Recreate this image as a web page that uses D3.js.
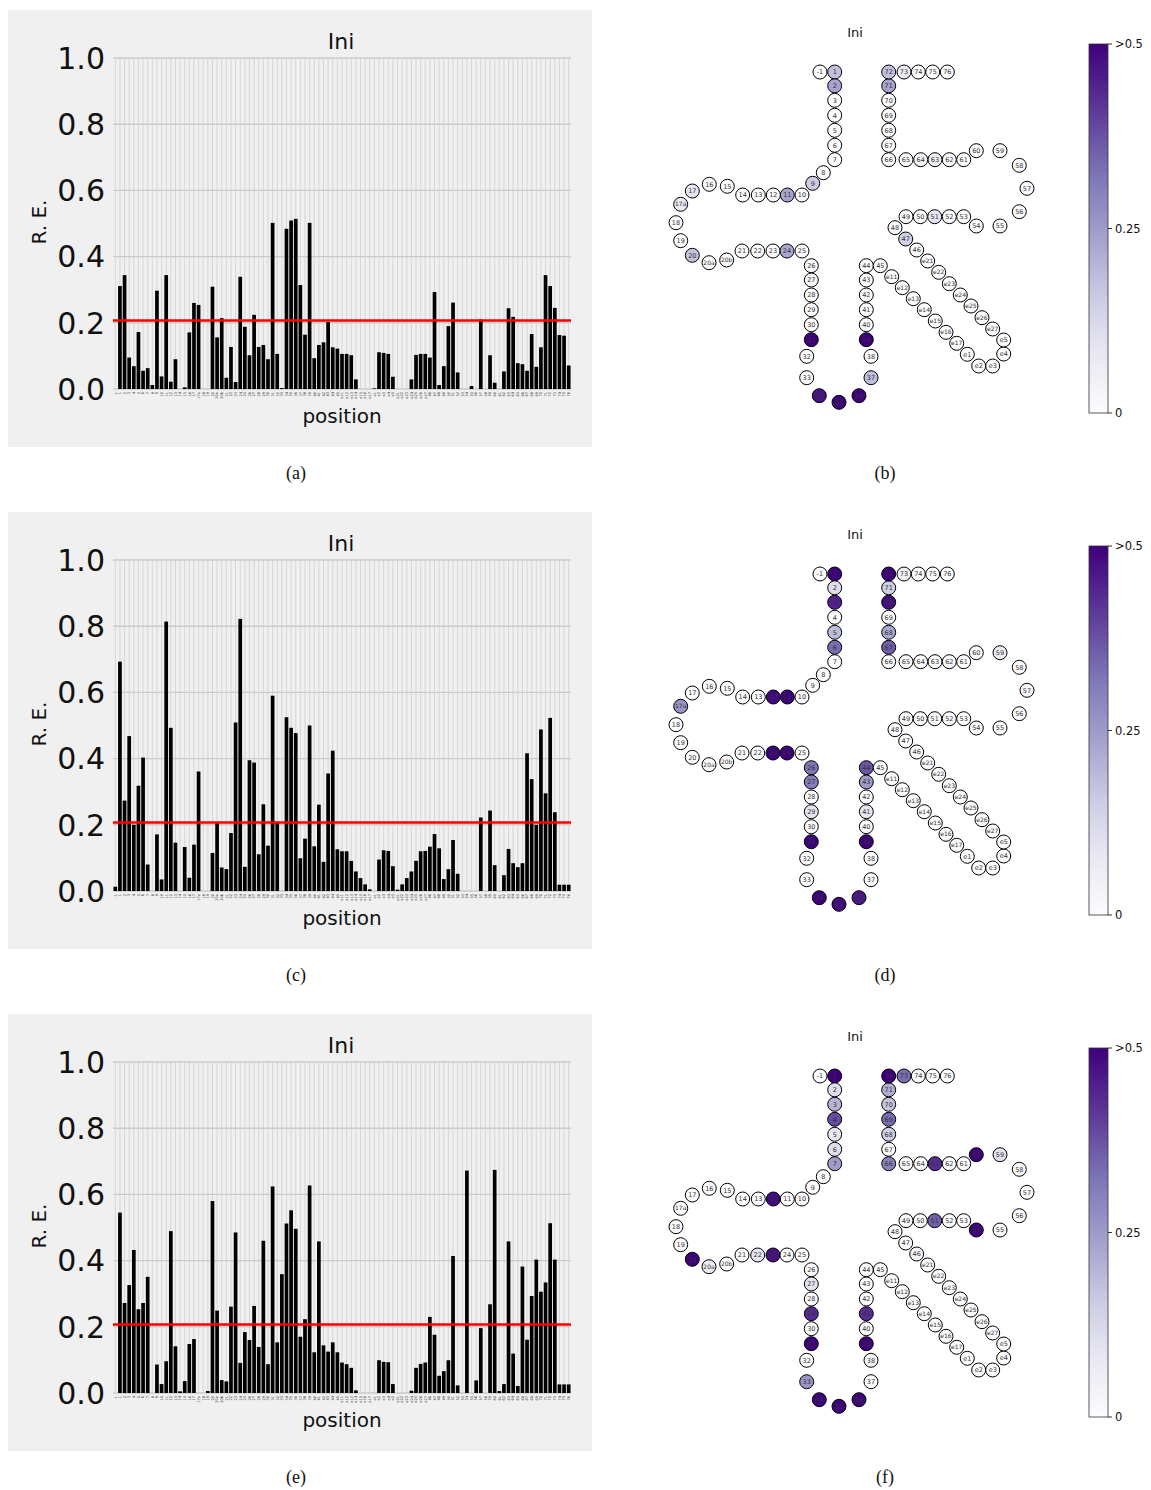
<!DOCTYPE html>
<html>
<head>
<meta charset="utf-8">
<script src="https://cdn.jsdelivr.net/npm/d3@7"></script>
<style>
  body { margin: 0; background: #fff; }
</style>
</head>
<body>
<div id="chart"></div>
<script>
// tRNA positions (Sprinzl numbering incl. variable arm)
const positions = [
  "-1", ...d3.range(1, 18).map(String), "17a", "18", "19", "20", "20a", "20b",
  ...d3.range(21, 46).map(String),
  ...d3.range(11, 18).map(d => "e" + d),
  ...d3.range(1, 6).map(d => "e" + d),
  ...d3.range(21, 28).map(d => "e" + d),
  ...d3.range(46, 77).map(String)
];

// relative enrichment, one value per position
const reIniA = [
  0, 0.311, 0.344, 0.095, 0.069, 0.172, 0.055, 0.063, 0.012, 0.297,
  0.038, 0.344, 0.022, 0.09, 0, 0.005, 0.171, 0.26, 0.254, 0,
  0, 0.309, 0.156, 0.214, 0.034, 0.127, 0.021, 0.339, 0.188, 0.102,
  0.224, 0.127, 0.133, 0.09, 0.502, 0.106, 0.003, 0.484, 0.509, 0.514,
  0.314, 0.164, 0.502, 0.093, 0.133, 0.141, 0.202, 0.126, 0.122, 0.106,
  0.106, 0.102, 0.029, 0, 0, 0, 0.002, 0.111, 0.109, 0.106,
  0.037, 0, 0, 0, 0.029, 0.103, 0.106, 0.106, 0.095, 0.293,
  0.012, 0.069, 0.19, 0.261, 0.05, 0, 0, 0.009, 0, 0.21,
  0, 0.102, 0.019, 0, 0.053, 0.244, 0.218, 0.078, 0.075, 0.055,
  0.166, 0.067, 0.126, 0.344, 0.311, 0.245, 0.163, 0.161, 0.071
];
const reIniC = [
  0.013, 0.693, 0.273, 0.468, 0.2, 0.318, 0.403, 0.08, 0, 0.171,
  0.035, 0.814, 0.493, 0.146, 0, 0.133, 0.04, 0.14, 0.361, 0,
  0, 0.115, 0.205, 0.071, 0.066, 0.175, 0.509, 0.822, 0.073, 0.395,
  0.388, 0.111, 0.262, 0.137, 0.59, 0.209, 0, 0.525, 0.493, 0.477,
  0.099, 0.158, 0.5, 0.135, 0.261, 0.088, 0.355, 0.424, 0.126, 0.12,
  0.12, 0.091, 0.059, 0.039, 0.02, 0.005, 0, 0.095, 0.123, 0.121,
  0.075, 0.004, 0.02, 0.039, 0.059, 0.091, 0.12, 0.121, 0.134, 0.172,
  0.129, 0.036, 0.066, 0.154, 0.052, 0, 0, 0, 0, 0.222,
  0, 0.243, 0.078, 0, 0.048, 0.127, 0.084, 0.072, 0.084, 0.416,
  0.338, 0.2, 0.488, 0.295, 0.523, 0.238, 0.019, 0.019, 0.019
];
const reIniE = [
  0, 0.545, 0.272, 0.326, 0.432, 0.253, 0.272, 0.351, 0, 0.086,
  0.027, 0.096, 0.489, 0.141, 0.005, 0.036, 0.148, 0.163, 0, 0,
  0.006, 0.58, 0.249, 0.039, 0.035, 0.261, 0.485, 0.091, 0.184, 0.16,
  0.263, 0.139, 0.46, 0.087, 0.624, 0.153, 0.359, 0.512, 0.552, 0.496,
  0.17, 0.223, 0.627, 0.123, 0.458, 0.144, 0.125, 0.153, 0.123, 0.092,
  0.087, 0.076, 0.008, 0, 0, 0, 0, 0.099, 0.094, 0.093,
  0.027, 0, 0, 0, 0.007, 0.076, 0.088, 0.092, 0.23, 0.176,
  0.052, 0.066, 0.099, 0.414, 0.023, 0, 0.672, 0, 0.038, 0.196,
  0, 0.268, 0.674, 0.006, 0.027, 0.458, 0.119, 0.021, 0.382, 0.161,
  0.293, 0.403, 0.306, 0.334, 0.513, 0.403, 0.026, 0.026, 0.026
];

const threshold = 0.207;
const yTicks = [0, 0.2, 0.4, 0.6, 0.8, 1.0];
const cbTicks = [0, 0.25, 0.5];
const cbLabels = ["0", "0.25", ">0.5"];
const barCaptions = ["(a)", "(c)", "(e)"];
const leafCaptions = ["(b)", "(d)", "(f)"];
const titles = ["Ini", "Ini", "Ini"];

// cloverleaf layout (diagram units)
const leafLayout = [
  ["-1", 160, 72], ["1", 174.7, 72], ["2", 174.7, 85.8], ["3", 174.7, 100.3],
  ["4", 174.7, 115.3], ["5", 174.7, 130.3], ["6", 174.7, 145.3], ["7", 174.7, 159.7],
  ["8", 163.3, 172.7], ["9", 152.7, 183.3], ["10", 142, 195], ["11", 127.3, 195],
  ["12", 113.3, 195], ["13", 98.3, 195], ["14", 82.7, 195], ["15", 67.3, 186.3],
  ["16", 49.3, 184.3], ["17", 32.3, 191], ["17a", 20.7, 204.3], ["18", 16, 222.7],
  ["19", 20.7, 240.7], ["20", 32.3, 255.3], ["20a", 49, 262.7], ["20b", 66.7, 260],
  ["21", 82, 251], ["22", 97.7, 251], ["23", 113, 251], ["24", 127, 251], ["25", 142, 251],
  ["26", 151.3, 265.7], ["27", 151.3, 280], ["28", 151.3, 295], ["29", 151.3, 309.7],
  ["30", 151.3, 324.7], ["31", 151.3, 339.7], ["32", 146.7, 356.3], ["33", 146.7, 377.7],
  ["34", 159.3, 395.7], ["35", 179, 402.3], ["36", 199, 395.7], ["37", 211, 377.7],
  ["38", 211, 356.3], ["39", 206.3, 339.7], ["40", 206.3, 324.7], ["41", 206.3, 309.7],
  ["42", 206.3, 295], ["43", 206.3, 280], ["44", 206.3, 265.7], ["45", 220.3, 265.7],
  ["e11", 231.7, 276.7], ["e12", 242.3, 287.7], ["e13", 253.3, 298.7], ["e14", 264.3, 309.7],
  ["e15", 275.3, 321], ["e16", 286, 332.3], ["e17", 296.7, 343.3], ["e1", 307.3, 354.3],
  ["e2", 318.7, 366], ["e3", 332.7, 366], ["e4", 343.7, 354], ["e5", 343.7, 340],
  ["e27", 332.7, 329], ["e26", 322, 317.7], ["e25", 311, 306], ["e24", 300.3, 295],
  ["e23", 289.3, 283.7], ["e22", 278.7, 272.3], ["e21", 267.7, 261],
  ["46", 256.7, 250], ["47", 245.7, 239], ["48", 235, 227.7], ["49", 246, 216.7],
  ["50", 260.3, 216.7], ["51", 274.7, 216.7], ["52", 289.3, 216.7], ["53", 303.7, 216.7],
  ["54", 316.3, 226], ["55", 340, 226], ["56", 359.3, 211.7], ["57", 367, 188.3],
  ["58", 359.3, 165.3], ["59", 340, 150.7], ["60", 316.3, 150.7], ["61", 303.7, 159.7],
  ["62", 289.3, 159.7], ["63", 275, 159.7], ["64", 260.7, 159.7], ["65", 246, 159.7],
  ["66", 228.7, 159.7], ["67", 228.7, 145.3], ["68", 228.7, 130.3], ["69", 228.7, 115.3],
  ["70", 228.7, 100.3], ["71", 228.7, 85.8], ["72", 228.7, 72], ["73", 244, 72],
  ["74", 258.3, 72], ["75", 272.7, 72], ["76", 287.3, 72]
];

const rows = [reIniA, reIniC, reIniE];
const rowStep = 502;

const svg = d3.select("#chart").append("svg")
  .attr("width", 1151)
  .attr("height", 1490)
  .style("font-family", "DejaVu Sans, sans-serif");

svg.append("rect").attr("width", 1151).attr("height", 1490).attr("fill", "#fff");

// shared scales
const x = d3.scaleBand().domain(positions).range([113, 571]).paddingInner(0.2).paddingOuter(0.1);
const y = d3.scaleLinear().domain([0, 1]).range([389, 58]);
const color = d3.scaleSequential(d3.interpolatePurples).domain([threshold, 0.5]).clamp(true);
const nx = d3.scaleLinear().domain([0, 400]).range([660, 1060]);
const ny = d3.scaleLinear().domain([0, 400]).range([0, 400]);
const cb = d3.scaleLinear().domain([0, 0.5]).range([413, 44]);

// gradient for colour bar
const defs = svg.append("defs");
const grad = defs.append("linearGradient").attr("id", "purples")
  .attr("x1", 0).attr("y1", 1).attr("x2", 0).attr("y2", 0);
d3.range(0, 1.001, 0.05).forEach(t => {
  grad.append("stop").attr("offset", t).attr("stop-color", d3.interpolatePurples(t));
});

rows.forEach((values, row) => {
  const g = svg.append("g").attr("transform", `translate(0,${row * rowStep})`);
  const byPos = new Map(positions.map((p, i) => [p, values[i]]));

  // ---- bar chart panel ----
  g.append("rect").attr("x", 8).attr("y", 10).attr("width", 584).attr("height", 437)
    .attr("fill", "#f0f0f0");

  g.append("g").selectAll("line").data(positions).join("line")
    .attr("x1", d => x(d) + x.bandwidth() / 2).attr("x2", d => x(d) + x.bandwidth() / 2)
    .attr("y1", y(1)).attr("y2", y(0))
    .attr("stroke", "#d2d2d2").attr("stroke-width", 0.9);

  g.append("g").selectAll("line").data(yTicks).join("line")
    .attr("x1", 113).attr("x2", 571)
    .attr("y1", d => y(d)).attr("y2", d => y(d))
    .attr("stroke", "#cbcbcb").attr("stroke-width", 1.4);

  g.append("g").selectAll("rect").data(positions).join("rect")
    .attr("x", d => x(d))
    .attr("width", x.bandwidth())
    .attr("y", d => y(byPos.get(d)))
    .attr("height", d => y(0) - y(byPos.get(d)))
    .attr("fill", "#000");

  g.append("line")
    .attr("x1", 113).attr("x2", 571)
    .attr("y1", y(threshold)).attr("y2", y(threshold))
    .attr("stroke", "#ff0000").attr("stroke-width", 2.5);

  g.append("g").selectAll("text").data(yTicks).join("text")
    .attr("x", 105).attr("y", d => y(d)).attr("dy", "0.36em")
    .attr("text-anchor", "end").attr("font-size", 30).attr("fill", "#111")
    .text(d => d3.format(".1f")(d));

  g.append("g").selectAll("text").data(positions).join("text")
    .attr("transform", d => `translate(${x(d) + x.bandwidth() / 2 + 1.3},392) rotate(-90)`)
    .attr("text-anchor", "end").attr("font-size", 3.6).attr("fill", "#333")
    .text(d => d);

  g.append("text").attr("x", 341).attr("y", 49).attr("text-anchor", "middle")
    .attr("font-size", 22).attr("fill", "#111").text(titles[row]);
  g.append("text").attr("x", 342).attr("y", 423).attr("text-anchor", "middle")
    .attr("font-size", 20).attr("fill", "#111").text("position");
  g.append("text").attr("transform", "translate(46,222) rotate(-90)")
    .attr("text-anchor", "middle").attr("font-size", 20).attr("fill", "#111").text("R. E.");

  g.append("text").attr("x", 296).attr("y", 479).attr("text-anchor", "middle")
    .attr("font-family", "Liberation Serif, serif").attr("font-size", 18).attr("fill", "#111")
    .text(barCaptions[row]);

  // ---- cloverleaf panel ----
  g.append("text").attr("x", 855).attr("y", 37).attr("text-anchor", "middle")
    .attr("font-size", 13).attr("fill", "#111").text(titles[row]);

  const nodes = g.append("g").selectAll("g").data(leafLayout).join("g")
    .attr("transform", d => `translate(${nx(d[1])},${ny(d[2])})`);
  nodes.append("circle").attr("r", 7)
    .attr("fill", d => color(byPos.get(d[0])))
    .attr("stroke", "#000").attr("stroke-width", 1);
  nodes.append("text").attr("dy", "0.35em").attr("text-anchor", "middle")
    .attr("font-size", d => d[0].length > 2 ? 6 : 6.5).attr("fill", "#333")
    .text(d => d[0]);

  // colour bar
  g.append("rect").attr("x", 1089).attr("y", cb(0.5)).attr("width", 19)
    .attr("height", cb(0) - cb(0.5)).attr("fill", "url(#purples)")
    .attr("stroke", "#333").attr("stroke-width", 0.8);
  const cbt = g.append("g").selectAll("g").data(cbTicks).join("g")
    .attr("transform", d => `translate(1108,${cb(d)})`);
  cbt.append("line").attr("x2", 4).attr("stroke", "#000").attr("stroke-width", 0.8);
  cbt.append("text").attr("x", 7).attr("dy", "0.35em").attr("font-size", 11.5)
    .attr("fill", "#111").text((d, i) => cbLabels[i]);

  g.append("text").attr("x", 885).attr("y", 479).attr("text-anchor", "middle")
    .attr("font-family", "Liberation Serif, serif").attr("font-size", 18).attr("fill", "#111")
    .text(leafCaptions[row]);
});
</script>
</body>
</html>
